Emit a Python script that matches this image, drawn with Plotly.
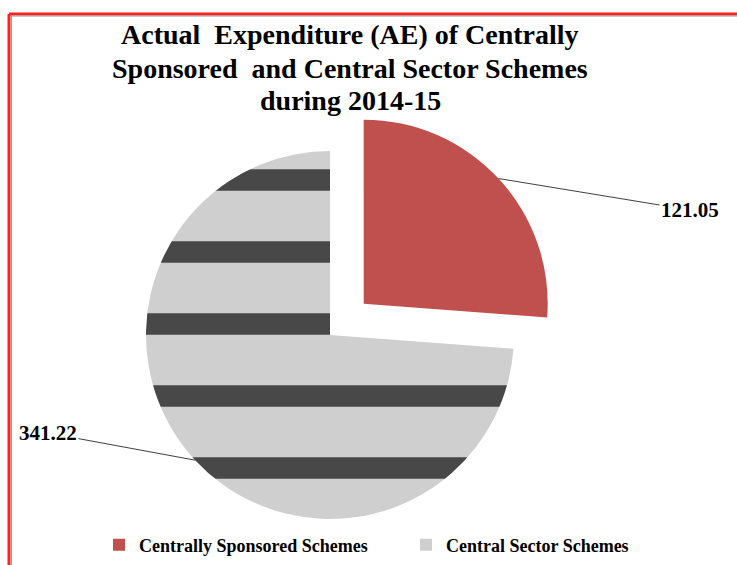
import math
import plotly.graph_objects as go

# ---- data ----
categories = ["Centrally Sponsored Schemes", "Central Sector Schemes"]
values = [121.05, 341.22]
pulls = [0.25, 0.0]
slice_colors = ["#C0504D", "#CDCDCD"]
title_lines = ["Actual \u00a0Expenditure (AE) of Centrally",
               "Sponsored \u00a0and Central Sector Schemes",
               "during 2014-15"]

# ---- layout geometry ----
W, H = 737, 565
cx_px, cy_px = 330, 335          # pie centre (pixels from top-left)
half_h = H - cy_px               # domain reaches the bottom edge
dom_y = [0, 2 * half_h / H]
dom_x = [(cx_px - 245) / W, (cx_px + 245) / W]
maxpull = max(pulls)
r_px = (2 * half_h) / (2 + 2 * maxpull)

fig = go.Figure(go.Pie(
    labels=categories,
    values=values,
    pull=pulls,
    sort=False,
    direction="clockwise",
    rotation=0,
    textinfo="none",
    domain=dict(x=dom_x, y=dom_y),
    marker=dict(
        colors=slice_colors,
        line=dict(width=0),
        pattern=dict(
            shape=["", "-"],
            bgcolor=["#C0504D", "#CFCFCF"],
            fgcolor=["#C0504D", "#484848"],
            size=[8, 72],
            solidity=[0.2, 0.3],
        ),
    ),
))

annotations = []
# title lines
title_y = [35, 68, 100]
for t, ty in zip(title_lines, title_y):
    annotations.append(dict(
        x=350 / W, y=1 - ty / H, xref="paper", yref="paper", text=t, showarrow=False,
        xanchor="center", yanchor="middle",
        font=dict(family="Liberation Serif", size=28, color="black", weight="bold"),
    ))

# leader lines + value labels, anchored on the slice edge at mid-angle
label_pos = [(690, 210), (48, 433)]   # label centres in pixels
total = sum(values)
cum = 0.0
for v, p, (lx, ly) in zip(values, pulls, label_pos):
    theta = 2 * math.pi * (cum + v / 2) / total
    cum += v
    rr = r_px * (1 + p)
    px = cx_px + rr * math.sin(theta)
    py = cy_px - rr * math.cos(theta)
    annotations.append(dict(
        x=px / W, y=1 - py / H, xref="paper", yref="paper",
        text=f"{v:.2f}", showarrow=True, arrowhead=0, arrowwidth=1,
        arrowcolor="#404040", ax=lx - px, ay=ly - py,
        font=dict(family="Liberation Serif", size=21, color="black", weight="bold"),
    ))

fig.update_layout(
    width=W, height=H,
    margin=dict(l=0, r=0, t=0, b=0),
    paper_bgcolor="white",
    plot_bgcolor="white",
    showlegend=True,
    legend=dict(
        orientation="h", x=99 / W, xanchor="left", y=1 - 545 / H, yanchor="middle",
        font=dict(family="Liberation Serif", size=18, color="black", weight="bold"),
        bgcolor="rgba(0,0,0,0)",
        entrywidth=262, entrywidthmode="pixels",
    ),
    annotations=annotations,
    shapes=[
        dict(type="line", xref="paper", yref="paper", x0=9 / W, x1=1, y0=1 - 14 / H, y1=1 - 14 / H,
             line=dict(color="#FF2020", width=3)),
        dict(type="line", xref="paper", yref="paper", x0=9 / W, x1=9 / W, y0=0, y1=1 - 14 / H,
             line=dict(color="#FF2020", width=3)),
        dict(type="line", xref="paper", yref="paper", x0=11.5 / W, x1=1, y0=1 - 16 / H, y1=1 - 16 / H,
             line=dict(color="#9A9A9A", width=1)),
        dict(type="line", xref="paper", yref="paper", x0=11.5 / W, x1=11.5 / W, y0=0, y1=1 - 16 / H,
             line=dict(color="#9A9A9A", width=1)),
    ],
)

fig.write_html("out.html", config={"displayModeBar": False},
               post_script="document.body.style.margin='0px';")
